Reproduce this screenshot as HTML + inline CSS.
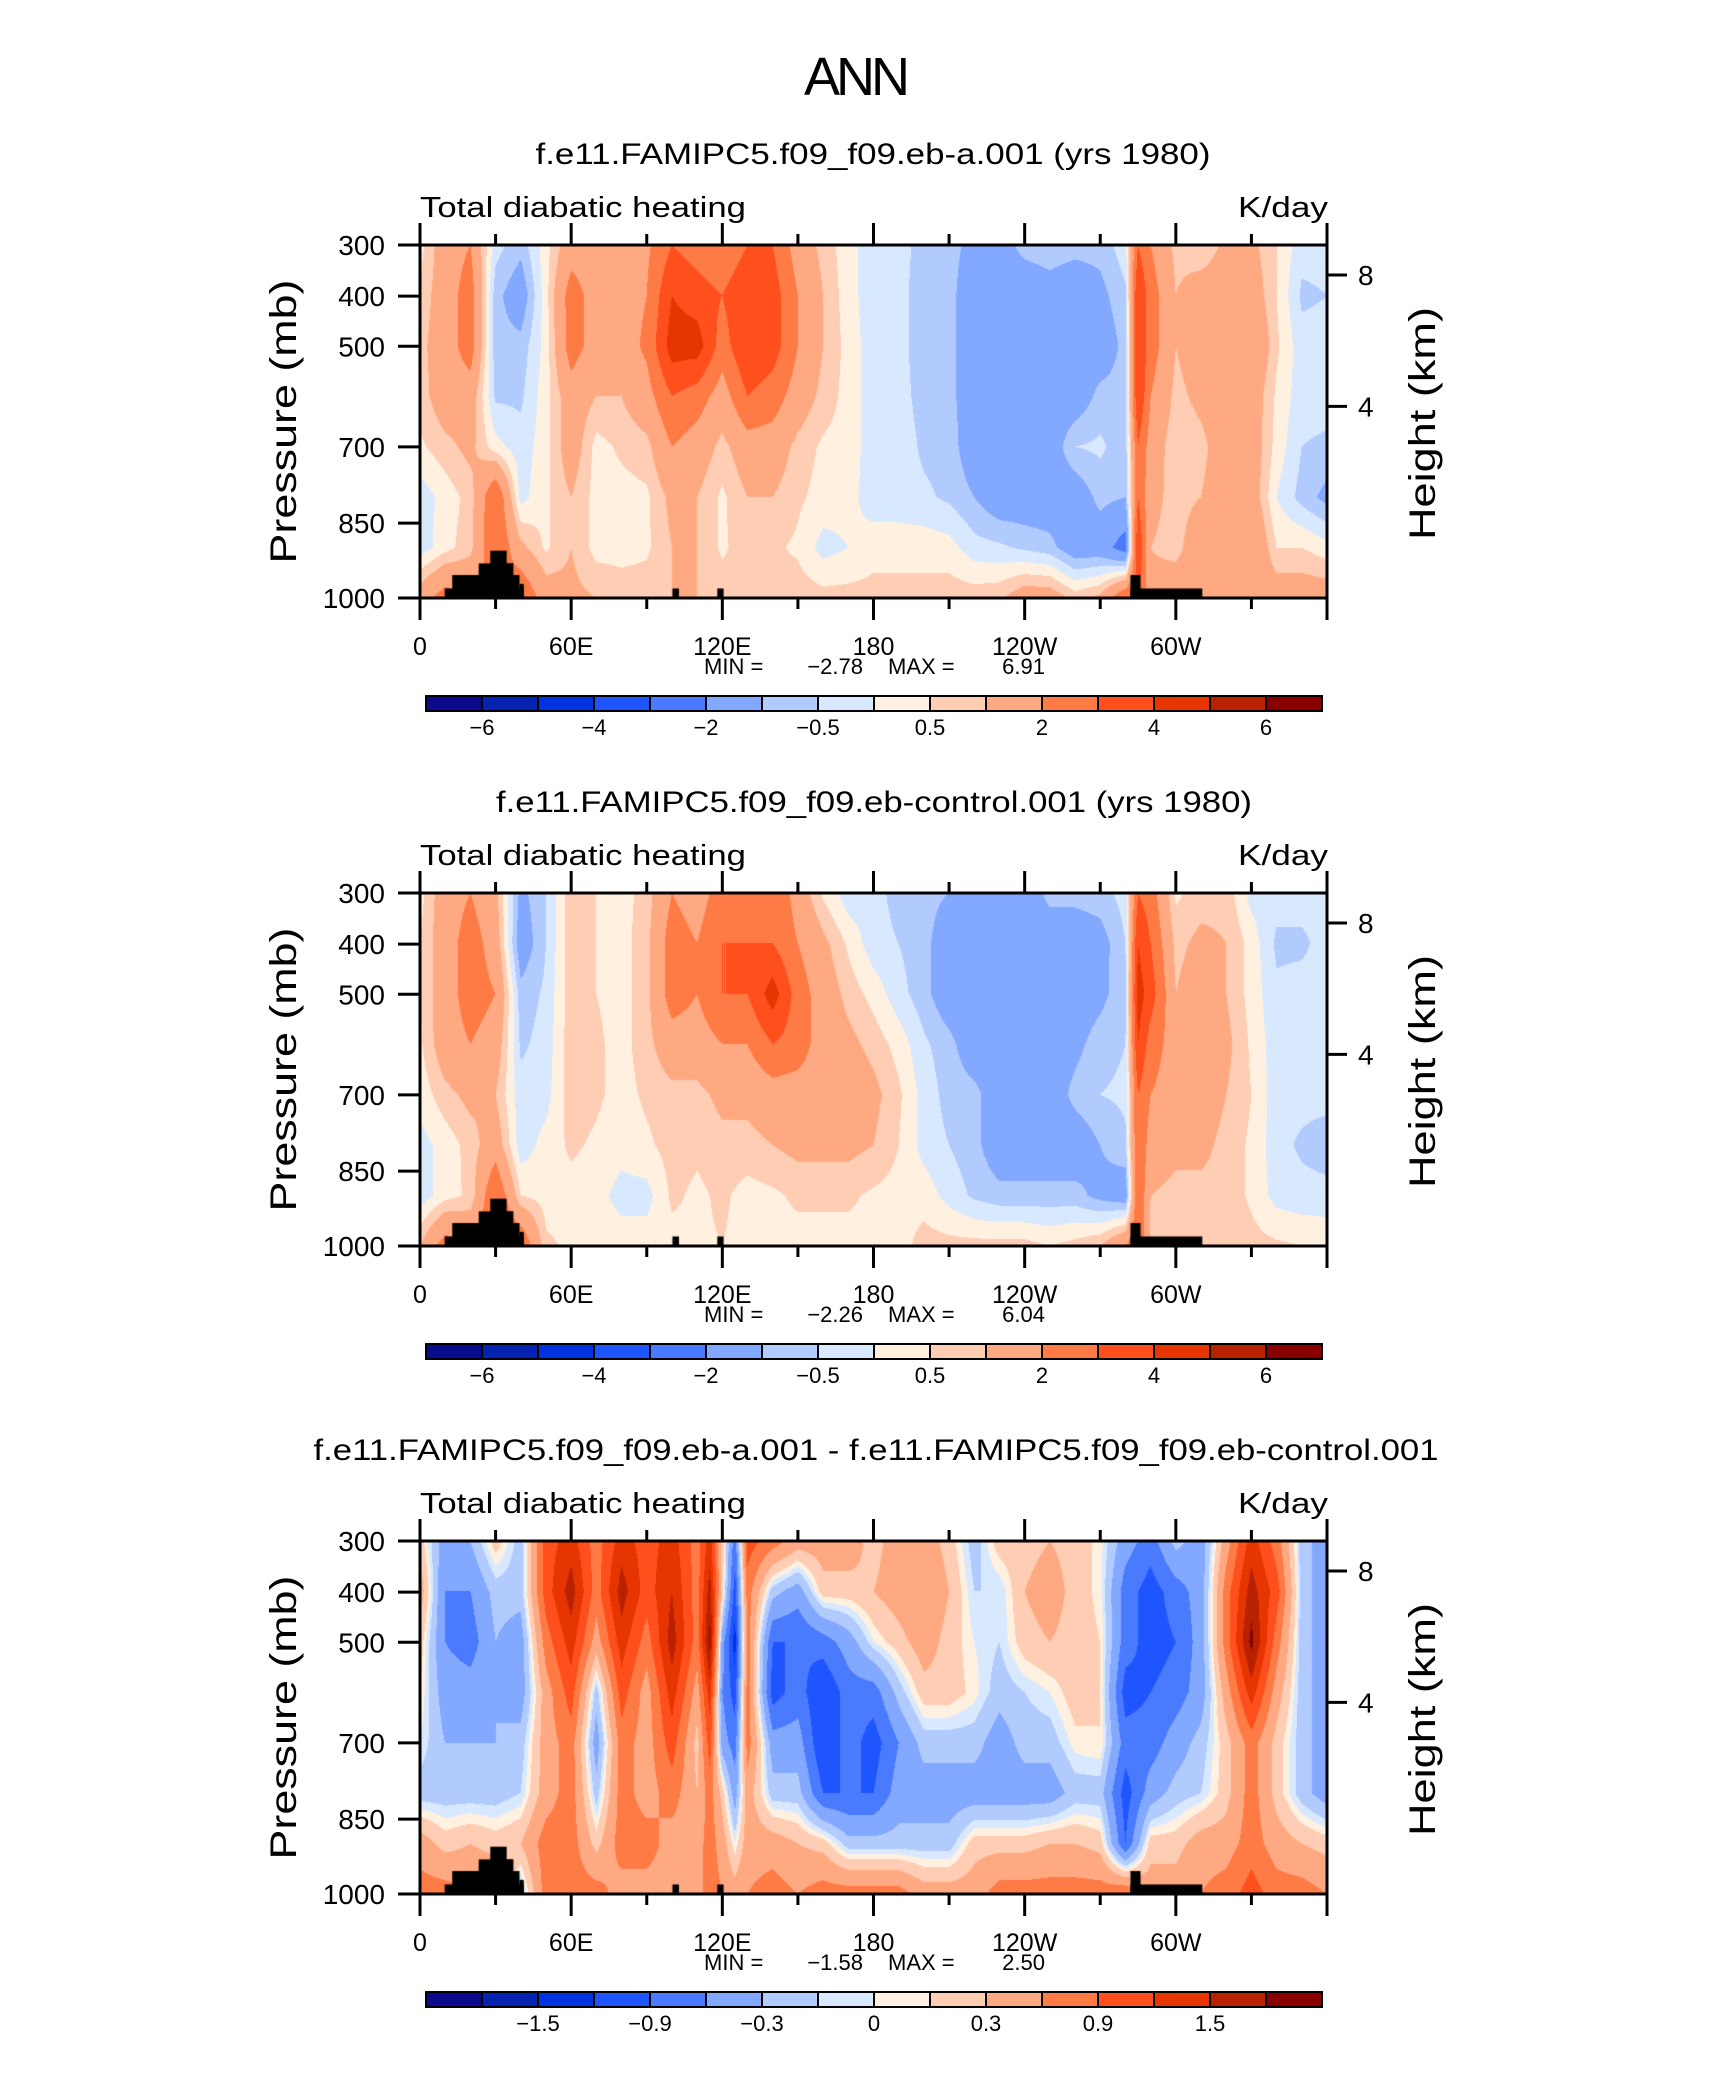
<!DOCTYPE html>
<html><head><meta charset="utf-8"><style>
html,body{margin:0;padding:0;background:#fff;}
#wrap{position:relative;width:1710px;height:2074px;overflow:hidden;background:#fff;}
canvas{position:absolute;}
svg{position:absolute;left:0;top:0;}
text{font-family:"Liberation Sans",sans-serif;fill:#000;}
</style></head><body>
<div id="wrap">
<canvas id="c0" width="907" height="353" style="left:420px;top:245px"></canvas>
<canvas id="c1" width="907" height="353" style="left:420px;top:893px"></canvas>
<canvas id="c2" width="907" height="353" style="left:420px;top:1541px"></canvas>
<svg id="ov" width="1710" height="2074">
<text x="857" y="95" font-size="54" text-anchor="middle" textLength="106" font-weight="300">ANN</text>
</svg>
</div>
<script>
// ---------- data ----------
const colors=["#0a0a8c","#0522b0","#0033e0","#1f55ff","#4a7bff","#82a8ff","#b2cbff","#d8e9ff","#fff0df","#ffcdb3","#ffa982","#ff7b46","#ff4f1c","#e63500","#b82200","#880000"];
const levelsA=[-6,-5,-4,-3,-2,-1,-0.5,0,0.5,1,2,3,4,5,6];
const levelsD=[-1.8,-1.5,-1.2,-0.9,-0.6,-0.3,-0.1,0,0.1,0.3,0.6,0.9,1.2,1.5,1.8];
const labelsA=["-6","-4","-2","-0.5","0.5","2","4","6"];
const labelIdxA=[0,2,4,6,8,10,12,14];
const labelsD=["-1.5","-0.9","-0.3","0","0.3","0.9","1.5"];
const labelIdxD=[1,3,5,7,9,11,13];
const yTickLabels=["300","400","500","700","850","1000"];
const yTickFrac=[0,0.145,0.287,0.572,0.788,1];
const hTickLabels=["8","4"];
const hTickFrac=[0.085,0.457];
const xTickLabels=["0","60E","120E","180","120W","60W"];
const xTickLon=[0,60,120,180,240,300];
const minVals=["-2.78","-2.26","-1.58"];
const maxVals=["6.91","6.04","2.50"];
const titles=["f.e11.FAMIPC5.f09_f09.eb-a.001 (yrs 1980)","f.e11.FAMIPC5.f09_f09.eb-control.001 (yrs 1980)","f.e11.FAMIPC5.f09_f09.eb-a.001 - f.e11.FAMIPC5.f09_f09.eb-control.001"];
const terrLon0=[9.8,12.8,23.3,27.9,34.4,39.5,100.2,118,282,282];
const terrLon1=[41.2,39.5,37,34.4,37,41.2,102.8,120.5,310.5,286];
const terrH=[0.027,0.065,0.098,0.134,0.098,0.04,0.027,0.027,0.027,0.065];

const lons1=[0,10,20,30,40,50,60,70,80,90,100,110,120,130,140,150,160,170,180,190,200,210,220,230,240,250,260,270,280,285,290,300,310,320,330,340,350,360];
const vals1=[
[0.3,0.6,0.8,0.7,0.4,-0.3,-0.3,1.5],
[1.5,1.5,1.5,1.5,0.8,0.2,0.3,2.5],
[2,2.5,2.5,1.5,1.2,0.7,0.8,2],
[-0.3,-0.8,-0.8,-0.6,0.2,3,3,2],
[-0.8,-1.5,-0.8,-0.6,-0.3,-0.2,1.2,3],
[0.3,0.3,0.2,0.3,0.3,0.4,0.4,1.5],
[1.5,2.5,2.5,1.5,1.5,1,1,1.2],
[1.5,1.5,1.5,1,0.3,0.3,0.3,1],
[1.5,1.5,1.5,1,0.6,0.3,0.3,0.8],
[1.8,2,2.2,1.6,0.8,0.4,0.4,0.8],
[3,4,4.5,3,2,1.2,1,1],
[2.5,3.5,4.5,2.5,1.5,1,1,1],
[2,3,2.5,1.5,0.8,0.4,0.4,0.8],
[3,4,4,3,1.5,1,0.8,0.8],
[3,3.5,3.5,2.5,1.5,1,0.6,0.8],
[1.5,2,2,1.5,0.8,0.6,0.4,0.8],
[0.8,1,1,0.8,0.4,0.3,-0.2,0.7],
[0.2,0.2,0.3,0.3,0.3,0.2,0,0.7],
[-0.3,-0.3,-0.3,-0.3,-0.3,-0.3,0.3,0.7],
[-0.3,-0.3,-0.3,-0.3,-0.2,-0.3,0.3,0.7],
[-0.7,-0.8,-0.8,-0.7,-0.6,-0.4,0.3,0.7],
[-0.8,-0.8,-0.8,-0.8,-0.7,-0.6,0.2,0.8],
[-1.2,-1.5,-1.5,-1.5,-1.5,-1.0,-0.3,0.8],
[-1.3,-1.5,-1.5,-1.5,-1.5,-1.5,-0.4,0.9],
[-0.8,-1.5,-1.5,-1.5,-1.5,-1.5,-0.6,1.5],
[-0.7,-1.3,-1.5,-1.5,-1.5,-1.5,-0.8,1.5],
[-0.8,-1.5,-1.5,-1.5,-0.5,-1.5,-1.5,0.8],
[-0.8,-1.2,-1.5,-0.8,-0.4,-0.8,-1.5,1.2],
[-0.2,-0.6,-0.8,-0.8,-0.8,-1,-2.5,3],
[3,4,4,4,3,3,4,3],
[2,2.5,2.5,2,1.5,1.2,1,1.2],
[0.8,1,1,0.8,0.6,0.8,0.8,1.5],
[0.5,1.5,1.5,1.2,0.8,1,1.5,1.5],
[1.2,1.5,2,1.5,1.5,1.5,1.5,1.5],
[1.2,1.5,2,1.5,1.5,1.5,2,1.5],
[0.5,0.5,0.6,0.4,0.3,0,0.5,1.5],
[-0.3,-0.6,-0.3,-0.3,-0.5,-0.7,0.5,1.5],
[-0.3,-0.5,-0.3,-0.3,-0.6,-1.2,0.2,1.5]];

const lons2=lons1;
const vals2=[
[0.3,0.5,0.5,0.4,0.2,-0.2,-0.3,1],
[1.5,1.5,1.5,1.5,0.8,0.2,0.3,2.5],
[2,2.5,2.5,2,1.2,0.7,0.6,2],
[1.2,1.5,2,1.5,1,1.5,3,3],
[-1.2,-1.5,-0.8,-0.6,-0.3,-0.3,0.5,3],
[-0.5,-0.5,-0.4,-0.3,-0.2,0.2,0.3,0.6],
[0.8,0.8,0.8,0.8,0.8,0.6,0.3,0.4],
[0.5,0.5,0.5,0.6,0.6,0.4,0.2,0.3],
[0.3,0.3,0.3,0.3,0.3,0.2,-0.2,0.3],
[0.7,0.8,0.8,0.8,0.6,0.4,-0.2,0.3],
[2,2.5,2.5,1.5,0.8,0.7,0.6,0.3],
[1.5,2,2,1.5,0.8,0.6,0.4,0.4],
[2.5,3,3,2,1.2,0.8,0.6,0.5],
[2.5,3,3,2,1.2,0.8,0.3,0.3],
[3,3,4.5,3,1.5,1,0.4,0.3],
[1.5,2,2.5,2.5,1.5,1.2,0.6,0.3],
[0.4,1.2,1.5,1.5,1.5,1.2,0.6,0.3],
[-0.3,0.4,0.8,1.2,1.5,1.2,0.6,0.3],
[-0.3,-0.3,0.3,0.8,1.2,1.0,0.4,0.3],
[-0.7,-0.5,-0.3,0.3,0.6,0.5,0.3,0.3],
[-0.8,-0.8,-0.8,-0.4,-0.2,-0.2,0.3,0.7],
[-1,-1.5,-1.5,-0.8,-0.7,-0.5,-0.2,0.7],
[-1,-1.5,-1.5,-1.5,-0.8,-0.8,-0.6,0.7],
[-1.3,-1.5,-1.5,-1.5,-1.5,-1.5,-0.8,0.7],
[-1.5,-1.5,-1.5,-1.5,-1.5,-1.5,-0.8,0.7],
[-0.8,-1.5,-1.5,-1.5,-1.5,-1.5,-0.8,0.5],
[-0.8,-1.5,-1.5,-1.2,-0.8,-1.5,-0.8,0.7],
[-0.7,-1.3,-1.2,-0.7,-0.5,-1.0,-1.2,1],
[-0.3,-0.5,-0.6,-0.5,-0.4,-0.6,-1.5,2],
[3,4,4.5,4,3,3,3,3],
[2.5,3,3.5,2.5,2,1.5,1,0.8],
[0.4,0.8,1,1.5,1.5,1.2,0.8,0.7],
[0.7,1.2,1.5,1.5,1.5,1.2,0.8,0.8],
[0.8,1,1,1.2,1,0.8,0.8,0.8],
[-0.2,0.3,0.3,0.4,0.5,0.4,0.4,0.7],
[-0.3,-0.6,-0.4,-0.3,-0.3,-0.3,-0.2,0.6],
[-0.3,-0.6,-0.3,-0.3,-0.3,-0.6,-0.3,0.5],
[-0.3,-0.3,-0.3,-0.3,-0.3,-0.8,-0.3,0.4]];

const lons3=[0,10,20,30,40,50,60,70,80,90,100,110,115,120,125,130,140,150,160,170,180,190,200,210,220,230,240,250,260,270,280,290,300,310,320,330,340,350,360];
const vals3=[
[0.2,0.45,0.2,0.1,0,-0.2,0.45,0.75],
[-0.45,-0.6,-0.6,-0.45,-0.3,-0.2,0.2,0.75],
[-0.3,-0.6,-0.75,-0.45,-0.3,-0.2,0.3,0.6],
[0.2,-0.2,-0.3,-0.3,-0.3,-0.2,0.2,0.6],
[-0.2,-0.2,-0.45,-0.45,-0.2,-0.1,0.3,-0.2],
[1.05,1.05,0.75,0.45,0.45,0.45,0.75,0.75],
[1.35,1.65,1.35,1.05,0.75,0.75,0.75,0.75],
[0.75,0.75,0.45,-0.2,-0.45,-0.2,0.2,0.75],
[1.35,1.65,1.35,1.05,0.75,0.75,0.75,0.45],
[1.05,1.05,0.75,0.45,0.45,0.45,0.75,0.45],
[1.35,1.5,1.65,1.35,1.05,0.75,0.45,0.45],
[0.75,0.75,0.75,0.45,0.2,0.3,0.45,0.45],
[1.35,1.65,1.9,1.35,1.05,0.75,0.75,0.75],
[0.2,0.2,-0.45,-0.6,-0.45,0.2,0.45,0.6],
[-0.75,-1.05,-1.35,-1.05,-0.75,-0.45,0,0.45],
[1.05,0.75,0.75,0.75,0.75,0.45,0.45,0.6],
[0.75,-0.2,-0.9,-1.05,-0.45,-0.2,0.45,0.75],
[0.45,-0.45,-0.9,-0.75,-0.45,-0.2,0.3,0.6],
[0.45,0.2,-0.75,-1.2,-1.2,-0.9,0.2,0.75],
[0.45,0.2,-0.45,-0.75,-0.75,-0.9,-0.2,0.75],
[0.2,0.3,0,-0.75,-1.05,-0.9,-0.2,0.75],
[0.45,0.45,0.2,-0.2,-0.6,-0.45,-0.2,0.75],
[0.45,0.6,0.45,0.2,-0.2,-0.45,-0.2,0.45],
[0.2,0.3,0.2,0.2,-0.2,-0.45,-0.2,0.45],
[-0.2,-0.1,0,0.05,-0.2,-0.45,0.2,0.45],
[0.2,-0.1,-0.1,-0.2,-0.45,-0.45,0.2,0.75],
[0.2,0.3,0.2,-0.1,-0.2,-0.45,0.2,0.75],
[0.3,0.45,0.3,0,-0.2,-0.45,0.3,0.75],
[0.2,0.2,0.2,0.2,0.05,-0.2,0.3,0.75],
[0.05,0.05,0.1,0.1,0.1,-0.2,0.2,0.75],
[-0.45,-0.75,-0.75,-1.05,-0.75,-1.05,-0.9,0.9],
[-0.75,-1.05,-1.05,-0.9,-0.75,-0.45,0.2,0.45],
[-0.2,-0.75,-0.9,-0.75,-0.45,-0.2,0.2,0.45],
[-0.45,-0.45,-0.45,-0.45,-0.2,-0.1,0.45,0.6],
[0.45,0.75,0.75,0.45,0.2,0.2,0.45,0.75],
[1.35,1.65,1.9,1.35,0.75,0.75,0.75,1.05],
[0.75,1.05,0.75,0.45,0.2,0.2,0.45,0.75],
[-0.2,-0.2,-0.2,-0.2,-0.2,-0.2,0.3,0.75],
[-0.45,-0.45,-0.45,-0.45,-0.45,-0.45,0.2,0.6]];

// ---------- geometry ----------
const PX=420, PW=907, PH=353;
const panelTops=[245,893,1541];
const xScale=lon=>PX+lon/360*PW;
const NS="http://www.w3.org/2000/svg";
const ov=document.getElementById('ov');
function hex(c){return [parseInt(c.substr(1,2),16),parseInt(c.substr(3,2),16),parseInt(c.substr(5,2),16)];}
const rgb=colors.map(hex);

function drawField(cid,lons,vals,levels){
  const cv=document.getElementById(cid),ctx=cv.getContext('2d');
  const img=ctx.createImageData(PW,PH);const nr=vals[0].length;
  for(let px=0;px<PW;px++){
    const lon=(px+0.5)/PW*360;let i=0;while(i<lons.length-2&&lons[i+1]<lon)i++;
    const tx=(lon-lons[i])/(lons[i+1]-lons[i]);
    for(let py=0;py<PH;py++){
      const f=(py+0.5)/PH*(nr-1);let j=Math.min(Math.floor(f),nr-2);const ty=f-j;
      const v=(vals[i][j]*(1-tx)+vals[i+1][j]*tx)*(1-ty)+(vals[i][j+1]*(1-tx)+vals[i+1][j+1]*tx)*ty;
      let b=0;while(b<levels.length&&v>=levels[b])b++;
      const c=rgb[b],k=(py*PW+px)*4;img.data[k]=c[0];img.data[k+1]=c[1];img.data[k+2]=c[2];img.data[k+3]=255;
    }
  }
  ctx.putImageData(img,0,0);
  ctx.fillStyle="#000";
  for(let t=0;t<terrLon0.length;t++){
    const x0=terrLon0[t]/360*PW,x1=terrLon1[t]/360*PW,h=terrH[t]*PH;
    ctx.fillRect(x0,PH-h,x1-x0,h);
  }
}
function el(tag,attrs,txt){const e=document.createElementNS(NS,tag);for(const k in attrs)e.setAttribute(k,attrs[k]);if(txt!==undefined)e.textContent=txt;ov.appendChild(e);return e;}
function line(x1,y1,x2,y2,w){return el('line',{x1:x1,y1:y1,x2:x2,y2:y2,stroke:'#000','stroke-width':w});}

const titleX=[873,874,876],titleW=[675,756,1125];
const fieldLons=[lons1,lons2,lons3],fieldVals=[vals1,vals2,vals3],fieldLevels=[levelsA,levelsA,levelsD];
for(let p=0;p<3;p++){
  drawField('c'+p,fieldLons[p],fieldVals[p],fieldLevels[p]);
  const T=panelTops[p],B=T+PH;
  let e=el('text',{x:titleX[p],y:T-81,'font-size':30,'text-anchor':'middle',textLength:titleW[p],lengthAdjust:'spacingAndGlyphs'},titles[p]);
  
  e=el('text',{x:420,y:T-28,'font-size':29,textLength:326,lengthAdjust:'spacingAndGlyphs'},'Total diabatic heating');
  
  e=el('text',{x:1328,y:T-28,'font-size':29,'text-anchor':'end',textLength:90,lengthAdjust:'spacingAndGlyphs'},'K/day');
  
  e=el('rect',{x:PX,y:T,width:PW,height:PH,fill:'none',stroke:'#000','stroke-width':3});
  
  for(let lon=0;lon<=360;lon+=30){
    const x=xScale(lon),maj=lon%60===0,L=maj?22:11;
    line(x,B,x,B+L,3);line(x,T,x,T-L,3);
  }
  for(let k=0;k<xTickLabels.length;k++){
    e=el('text',{x:xScale(xTickLon[k]),y:B+57,'font-size':25,'text-anchor':'middle'},xTickLabels[k]);
    
  }
  for(let k=0;k<yTickLabels.length;k++){
    const y=T+yTickFrac[k]*PH;line(PX-22,y,PX,y,3);
    e=el('text',{x:385,y:y+10,'font-size':28,'text-anchor':'end'},yTickLabels[k]);
    
  }
  for(let k=0;k<hTickLabels.length;k++){
    const y=T+hTickFrac[k]*PH;line(PX+PW,y,PX+PW+20,y,3);
    e=el('text',{x:1358,y:y+10,'font-size':28},hTickLabels[k]);
    
  }
  const cy=T+PH/2;
  e=el('text',{x:0,y:0,'font-size':37,'text-anchor':'middle',textLength:284,lengthAdjust:'spacingAndGlyphs',transform:`translate(296,${cy}) rotate(-90)`},'Pressure (mb)');
  
  e=el('text',{x:0,y:0,'font-size':37,'text-anchor':'middle',textLength:233,lengthAdjust:'spacingAndGlyphs',transform:`translate(1435,${cy+2}) rotate(-90)`},'Height (km)');
  
  // MIN / MAX
  e=el('text',{x:704,y:B+76,'font-size':22},'MIN =');
  
  e=el('text',{x:863,y:B+76,'font-size':22,'text-anchor':'end'},minVals[p].replace('-','\u2212'));
  
  e=el('text',{x:888,y:B+76,'font-size':22},'MAX =');
  
  e=el('text',{x:1045,y:B+76,'font-size':22,'text-anchor':'end'},maxVals[p]);
  
  // colorbar
  const cbT=B+98,cbH=15,cbX=426,cbW=896,bw=cbW/colors.length;
  for(let b=0;b<colors.length;b++){
    e=el('rect',{x:cbX+b*bw,y:cbT,width:bw,height:cbH,fill:colors[b],stroke:'#000','stroke-width':2});
    
  }
  const labs=p<2?labelsA:labelsD,idx=p<2?labelIdxA:labelIdxD;
  for(let k=0;k<labs.length;k++){
    e=el('text',{x:cbX+(idx[k]+1)*bw,y:cbT+39,'font-size':22,'text-anchor':'middle'},labs[k].replace('-','\u2212'));
    
  }
}
</script>
</body></html>
